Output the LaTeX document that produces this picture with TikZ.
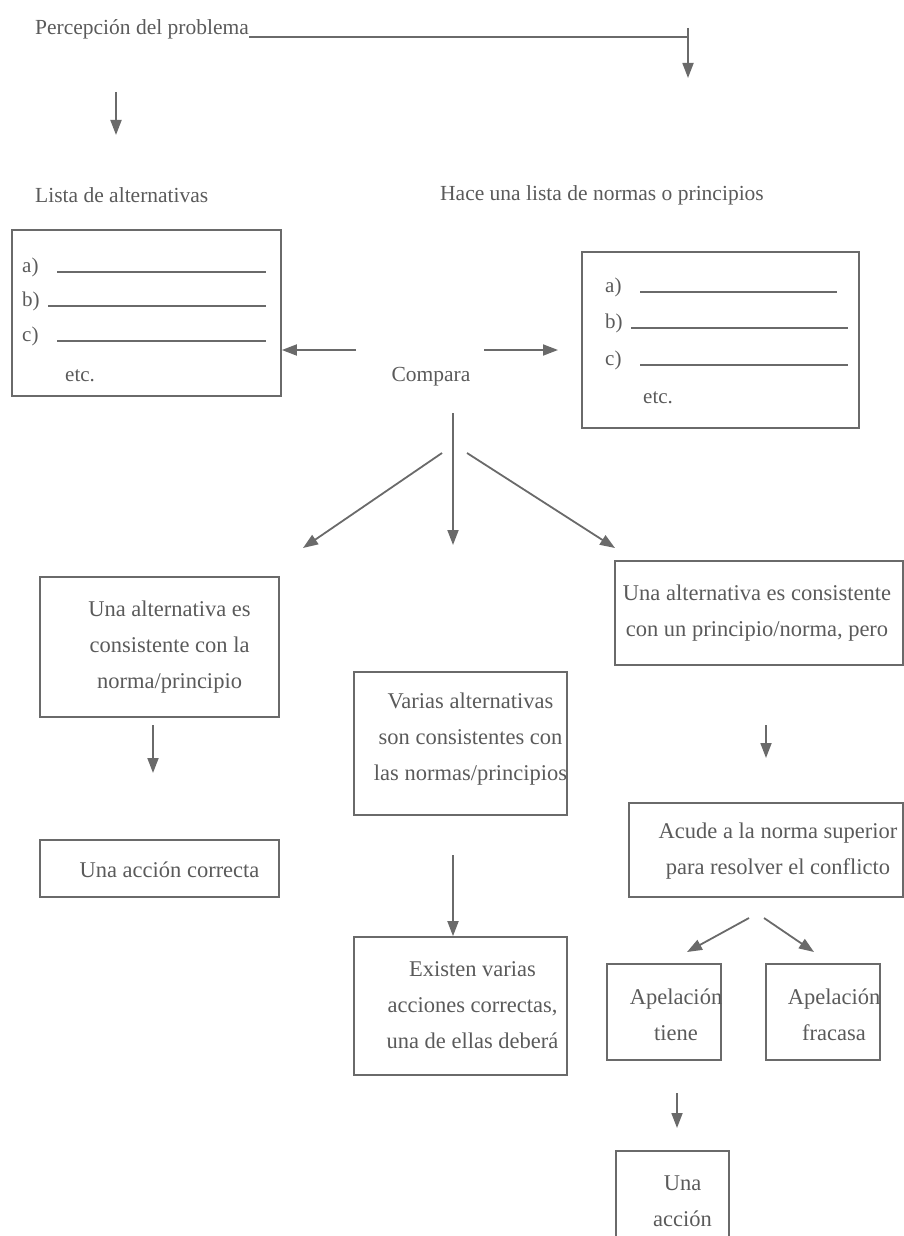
\documentclass[tikz,border=0pt]{standalone}
\usepackage{fontspec}
\setmainfont{Liberation Serif}
\usetikzlibrary{arrows.meta}
\definecolor{ink}{HTML}{5A5A5A}
\definecolor{rulegray}{HTML}{6A6A6A}

\begin{document}
\begin{tikzpicture}[
	x=1pt, y=-1pt,
	plain/.style={ text=ink, inner sep=0pt, font=\fontsize{21.5}{26}\selectfont },
	item/.style={ text=ink, inner sep=0pt, anchor=base west, font=\fontsize{21}{26}\selectfont },
	box/.style={ draw=rulegray, line width=1.7pt, inner sep=0pt },
	boxtxt/.style={ text=ink, align=center, inner sep=0pt, font=\fontsize{22.5}{36}\selectfont },
	rule/.style={ draw=rulegray, line width=1.4pt },
	arr/.style={ draw=rulegray, line width=1.8pt, -{Triangle[length=15pt,width=11pt]} }
]
\useasboundingbox (0,0) rectangle (904,1236);

% top line
\node at (35,35) (perc) [plain,anchor=base west] {Percepción del problema};
\coordinate (corner) at (688,37);
\draw[rule] (perc.base east |- corner) -- (corner);
\coordinate (rTop) at (688,28);
\coordinate (rEnd) at (688,78);
\draw[arr] (rTop) -- (rEnd);
\coordinate (lTop) at (116,92);
\coordinate (lEnd) at (116,135);
\draw[arr] (lTop) -- (lEnd);

\node at (35,195) (lista) [plain,anchor=west] {Lista de alternativas};
\node at (440,195) (hace) [plain,anchor=west] {Hace una lista de normas o principios};

% the two lists
\node at (146.5,313) (alts) [box,minimum width=269,minimum height=166] {};
\foreach \k/\y/\x in {a/272/57, b/306/48, c/341/57} {
	\node at (22,\y) (alt-\k) [item] {\k)};
	\draw[rule] (\x,\y) -- (266,\y);
}
\node at (65,381) (alt-etc) [item] {etc.};

\node at (720.5,340) (norms) [box,minimum width=277,minimum height=176] {};
\foreach \k/\y/\x/\e in {a/292/640/837, b/328/631/848, c/365/640/848} {
	\node at (605,\y) (norm-\k) [item] {\k)};
	\draw[rule] (\x,\y) -- (\e,\y);
}
\node at (643,403) (norm-etc) [item] {etc.};

\node at (431,377) (cmp) [plain] {Compara};
\coordinate (cmpL) at (356,350);
\draw[arr] (cmpL) -- (cmpL -| alts.east);
\coordinate (cmpR) at (484,350);
\coordinate (cmpREnd) at (558,350);
\draw[arr] (cmpR) -- (cmpREnd);

% three outcomes
\coordinate (cmpD) at (453,413);
\coordinate (cmpDEnd) at (453,545);
\draw[arr] (cmpD) -- (cmpDEnd);
\coordinate (dl) at (442,453);
\coordinate (dlEnd) at (303,548);
\draw[arr] (dl) -- (dlEnd);
\coordinate (dr) at (467,453);
\coordinate (drEnd) at (615,548);
\draw[arr] (dr) -- (drEnd);

\node at (159.5,647) (one) [box,minimum width=239,minimum height=140,
	label={[boxtxt,xshift=10pt]center:{Una alternativa es\\consistente con la\\norma/principio}}] {};
\coordinate (oneD) at (153,725);
\coordinate (oneDEnd) at (153,773);
\draw[arr] (oneD) -- (oneDEnd);
\node at (159.5,868.5) (correct) [box,minimum width=239,minimum height=57,
	label={[boxtxt,xshift=10pt,yshift=-1pt]center:{Una acción correcta}}] {};

\node at (460.5,743.5) (varias) [box,minimum width=213,minimum height=143,
	label={[boxtxt,xshift=10pt,yshift=4pt]center:{Varias alternativas\\son consistentes con\\las normas/principios}}] {};
\coordinate (vD) at (453,855);
\node at (460.5,1006) (existen) [box,minimum width=213,minimum height=138,
	label={[boxtxt,xshift=12pt,yshift=1pt]center:{Existen varias\\acciones correctas,\\una de ellas deberá}}] {};
\draw[arr] (vD) -- (vD |- existen.north);

\node at (759,613) (consist) [box,minimum width=288,minimum height=104,
	label={[boxtxt,xshift=-2pt]center:{Una alternativa es consistente\\con un principio/norma, pero}}] {};
\coordinate (cD) at (766,725);
\coordinate (cDEnd) at (766,758);
\draw[arr] (cD) -- (cDEnd);
\node at (766,850) (acude) [box,minimum width=274,minimum height=94,
	label={[boxtxt,xshift=12pt,yshift=-1pt]center:{Acude a la norma superior\\para resolver el conflicto}}] {};

\coordinate (al) at (749,918);
\coordinate (alEnd) at (687,952);
\draw[arr] (al) -- (alEnd);
\coordinate (ar) at (764,918);
\coordinate (arEnd) at (814,952);
\draw[arr] (ar) -- (arEnd);

\node at (664,1012) (tiene) [box,minimum width=114,minimum height=96,
	label={[boxtxt,xshift=12pt,yshift=-3pt]center:{Apelación\\tiene}}] {};
\node at (823,1012) (fracasa) [box,minimum width=114,minimum height=96,
	label={[boxtxt,xshift=11pt,yshift=-3pt]center:{Apelación\\fracasa}}] {};

\coordinate (tD) at (677,1093);
\coordinate (tDEnd) at (677,1128);
\draw[arr] (tD) -- (tDEnd);
\node at (672.5,1200) (accion) [box,minimum width=113,minimum height=98,
	label={[boxtxt,xshift=10pt,yshift=-1pt]center:{Una\\acción}}] {};

\end{tikzpicture}
\end{document}
